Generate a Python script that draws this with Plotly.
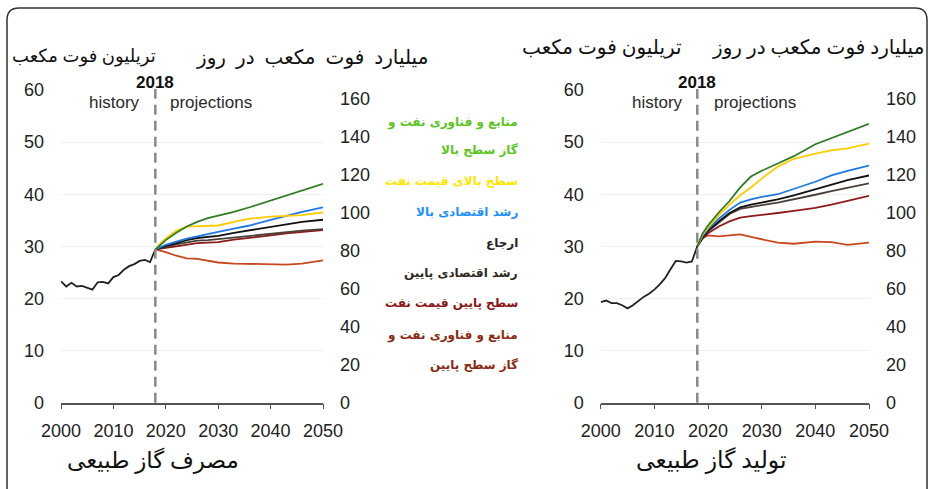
import plotly.graph_objects as go

W, H = 929, 489

# ---------------- data ----------------
hist_years = list(range(2000, 2019))
cons_hist = [23.3, 22.3, 23.0, 22.3, 22.4, 22.0, 21.7, 23.1, 23.2, 22.9, 24.1,
             24.5, 25.5, 26.2, 26.6, 27.2, 27.4, 27.0, 29.4]
prod_hist = [19.3, 19.6, 19.1, 19.1, 18.7, 18.1, 18.7, 19.5, 20.3, 20.9, 21.7,
             22.7, 23.9, 25.6, 27.2, 27.1, 26.9, 27.1, 30.0]

proj_years = [2018, 2019, 2020, 2022, 2024, 2026, 2028, 2030, 2033, 2036, 2040, 2043, 2046, 2050]

scenario_names = ["hi_res", "hi_oil", "hi_econ", "ref", "lo_econ", "lo_oil", "lo_res"]
scenario_colors = ["#2e7d23", "#ffcc00", "#1f78e6", "#111111", "#4a4038", "#8e1b1b", "#c8471f"]

cons_proj = {
    "hi_res":  [29.4, 30.4, 31.2, 32.6, 33.8, 34.7, 35.4, 35.9, 36.6, 37.5, 38.8, 39.8, 40.7, 42.0],
    "hi_oil":  [29.4, 30.6, 31.5, 33.0, 33.8, 33.9, 33.9, 34.0, 34.7, 35.3, 35.7, 35.8, 36.0, 36.5],
    "hi_econ": [29.4, 29.9, 30.3, 30.9, 31.5, 31.9, 32.4, 32.8, 33.4, 34.0, 35.1, 35.9, 36.6, 37.5],
    "ref":     [29.4, 29.8, 30.1, 30.6, 31.2, 31.6, 31.8, 32.0, 32.6, 33.1, 33.8, 34.3, 34.7, 35.1],
    "lo_econ": [29.4, 29.7, 29.9, 30.4, 30.8, 31.1, 31.2, 31.4, 31.8, 32.1, 32.5, 32.8, 33.0, 33.3],
    "lo_oil":  [29.4, 29.5, 29.7, 30.0, 30.3, 30.6, 30.7, 30.8, 31.3, 31.6, 32.1, 32.5, 32.8, 33.1],
    "lo_res":  [29.4, 29.2, 28.9, 28.2, 27.7, 27.6, 27.2, 26.9, 26.7, 26.6, 26.6, 26.5, 26.7, 27.3],
}
prod_proj = {
    "hi_res":  [30.0, 32.5, 34.0, 36.5, 38.7, 41.3, 43.4, 44.5, 45.9, 47.3, 49.6, 50.8, 51.9, 53.5],
    "hi_oil":  [30.0, 32.3, 33.6, 36.0, 38.0, 39.8, 41.3, 43.0, 45.3, 46.8, 47.8, 48.4, 48.8, 49.7],
    "hi_econ": [30.0, 32.0, 33.3, 35.3, 37.0, 38.4, 39.0, 39.5, 40.0, 41.0, 42.4, 43.6, 44.5, 45.5],
    "ref":     [30.0, 31.8, 33.0, 34.8, 36.4, 37.5, 38.0, 38.4, 39.0, 39.8, 41.0, 41.9, 42.7, 43.6],
    "lo_econ": [30.0, 31.7, 32.9, 34.6, 36.2, 37.2, 37.6, 37.9, 38.4, 39.0, 39.9, 40.6, 41.3, 42.1],
    "lo_oil":  [30.0, 31.5, 32.5, 33.8, 34.8, 35.5, 35.8, 36.0, 36.4, 36.8, 37.4, 38.0, 38.7, 39.7],
    "lo_res":  [30.0, 31.6, 32.1, 31.9, 32.1, 32.3, 31.8, 31.3, 30.7, 30.5, 30.9, 30.8, 30.3, 30.7],
}

legend_lines = ["منابع و فناوری نفت و", "گاز سطح بالا", "سطح بالای قیمت نفت", "رشد اقتصادی بالا",
                "ارجاع", "رشد اقتصادی پایین", "سطح پایین قیمت نفت", "منابع و فناوری نفت و",
                "گاز سطح پایین"]
legend_colors = ["#5cc41e", "#5cc41e", "#ffe600", "#1e90ff", "#222222", "#2d2a22",
                 "#8b1414", "#8b2a12", "#8b2a12"]

x_ticks = [2000, 2010, 2020, 2030, 2040, 2050]
left_ticks = [0, 10, 20, 30, 40, 50, 60]
right_ticks = [0, 20, 40, 60, 80, 100, 120, 140, 160]
TCF_TO_BCFD = 1000 / 365

unit_tcf = "تریلیون فوت مکعب"
unit_bcfd = "میلیارد فوت مکعب در روز"
title_cons = "مصرف گاز طبیعی"
title_prod = "تولید گاز طبیعی"

# ---------------- figure ----------------
def px(x):
    return x / W


def py(y):
    return 1 - y / H


fig = go.Figure()

panels = [
    ("x", "y", "y2", cons_hist, cons_proj),
    ("x2", "y3", "y4", prod_hist, prod_proj),
]
for xa, ya, ya2, hist, proj in panels:
    for name, color in zip(scenario_names[::-1], scenario_colors[::-1]):
        fig.add_trace(go.Scatter(x=proj_years, y=proj[name], mode="lines",
                                 line=dict(color=color, width=1.8),
                                 xaxis=xa, yaxis=ya, showlegend=False, hoverinfo="skip"))
    fig.add_trace(go.Scatter(x=hist_years, y=hist, mode="lines",
                             line=dict(color="#222222", width=1.8),
                             xaxis=xa, yaxis=ya, showlegend=False))
    # same history on the bcf/d axis (invisible) so the right axis is bound to data
    fig.add_trace(go.Scatter(x=hist_years, y=[v * TCF_TO_BCFD for v in hist], mode="lines",
                             line=dict(color="rgba(0,0,0,0)", width=0),
                             xaxis=xa, yaxis=ya2, showlegend=False, hoverinfo="skip"))

tickfont = dict(family="Liberation Sans, Arial, sans-serif", size=18, color="#222222")
y_bot, y_top = py(402.7), py(90)

xcommon = dict(range=[2000, 2050], tickvals=x_ticks, ticks="outside", ticklen=5,
               tickcolor="#555555", showline=True, linecolor="#555555", linewidth=1.5,
               showgrid=False, zeroline=False, tickfont=tickfont, ticklabelstandoff=6,
               automargin=False)
ycommon = dict(range=[0, 60], tickvals=left_ticks, showgrid=True, gridcolor="#f0f0f0",
               gridwidth=1, zeroline=False, showline=False, ticks="", tickfont=tickfont,
               domain=[y_bot, y_top], ticklabelstandoff=16, automargin=False)
y2common = dict(range=[0, 60 * TCF_TO_BCFD], tickvals=right_ticks, showgrid=False,
                zeroline=False, showline=False, ticks="", tickfont=tickfont, side="right",
                ticklabelstandoff=16, automargin=False)

fig.update_layout(
    width=W, height=H, margin=dict(l=0, r=0, t=0, b=0, pad=0, autoexpand=False),
    paper_bgcolor="white", plot_bgcolor="white", showlegend=False,
    xaxis=dict(domain=[px(61), px(323)], anchor="y", **xcommon),
    yaxis=dict(anchor="x", **ycommon),
    yaxis2=dict(anchor="x", overlaying="y", **y2common),
    xaxis2=dict(domain=[px(600.7), px(869)], anchor="y3", **xcommon),
    yaxis3=dict(anchor="x2", **ycommon),
    yaxis4=dict(anchor="x2", overlaying="y3", **y2common),
)

# dashed 2018 lines
for xa in ["x", "x2"]:
    fig.add_shape(type="line", xref=xa, yref="paper", x0=2018, x1=2018,
                  y0=y_bot, y1=py(89), line=dict(color="#8a8a8a", width=2.5, dash="10px,6px"))

ann = []
sans = "Liberation Sans, Arial, sans-serif"
persian = "DejaVu Sans, sans-serif"
persian_serif = "Liberation Serif, DejaVu Serif, DejaVu Sans, serif"
NB = "\u00a0"


def text(t, x, y, size, color="#111111", family=sans, xanchor="center"):
    ann.append(dict(text=t, x=px(x), y=py(y), xref="paper", yref="paper",
                    xanchor=xanchor, yanchor="middle", showarrow=False,
                    font=dict(family=family, size=size, color=color)))


# 2018 / history / projections
for cx, hist_right, proj_left in [(155, 142, 168), (697, 685, 712)]:
    text("<b>2018</b>", cx, 82, 17)
    text("history", hist_right, 102, 17, "#2a2a2a", xanchor="right")
    text("projections", proj_left, 102, 17, "#2a2a2a", xanchor="left")

# unit headers
text(unit_tcf, 10, 56, 18, family=persian_serif, xanchor="left")
text(unit_bcfd.replace(" ", NB * 2), 430, 57, 20, family=persian_serif, xanchor="right")
text(unit_tcf, 520, 47, 20, family=persian_serif, xanchor="left")
text(unit_bcfd, 926, 47, 20, family=persian_serif, xanchor="right")

# bottom titles
text(title_cons, 153, 460, 23, family=persian_serif)
text(title_prod, 711, 460, 23.5, family=persian_serif)

# legend text
legend_y = [122, 150, 181, 212, 243, 273, 303, 335, 365]
for t, c, yy in zip(legend_lines, legend_colors, legend_y):
    text("<b>" + t + "</b>", 520, yy, 12, color=c, family=persian, xanchor="right")

fig.update_layout(annotations=ann)

# rounded frame
x0, x1 = px(7), px(927)
yt = py(8)
rx, ry = 12 / W, 12 / H
path = (f"M {x0} -0.1 L {x0} {yt - ry} Q {x0} {yt} {x0 + rx} {yt} "
        f"L {x1 - rx} {yt} Q {x1} {yt} {x1} {yt - ry} L {x1} -0.1")
fig.add_shape(type="path", xref="paper", yref="paper", path=path,
              line=dict(color="#333333", width=1.5))

fig.write_html("out.html")
